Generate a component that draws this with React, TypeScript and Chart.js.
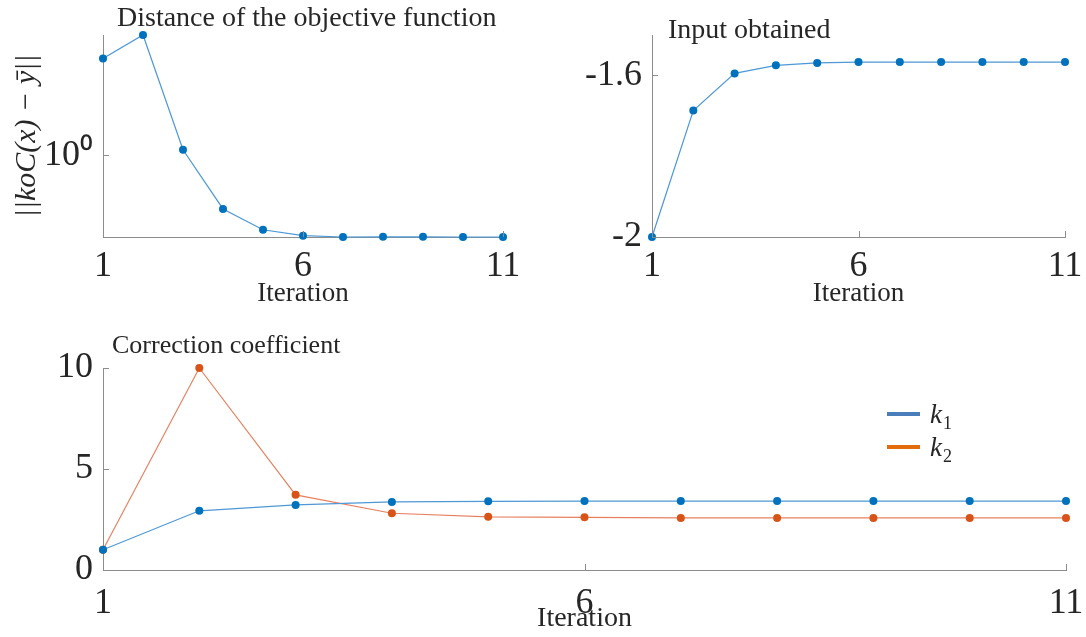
import React, { useEffect, useRef } from 'react';
import { Chart, registerables } from 'chart.js';

Chart.register(...registerables);

// ---------- data ----------
const iterations = [1, 2, 3, 4, 5, 6, 7, 8, 9, 10, 11];
const distanceValues = [3.05, 4.0, 1.068, 0.54, 0.425, 0.397, 0.391, 0.392, 0.392, 0.391, 0.391];
const inputValues = [-2, -1.687, -1.595, -1.575, -1.569, -1.567, -1.567, -1.567, -1.567, -1.567, -1.567];
const k1Values = [1, 2.93, 3.22, 3.37, 3.4, 3.41, 3.41, 3.41, 3.41, 3.41, 3.41];
const k2Values = [1, 10, 3.72, 2.81, 2.63, 2.61, 2.58, 2.58, 2.58, 2.58, 2.58];
const xTickValues = [1, 6, 11];
const distanceTicks = [1];
const inputTicks = [-2, -1.6];
const coefTicks = [0, 5, 10];

// ---------- styles ----------
const SERIF = '"Liberation Serif", "Times New Roman", serif';
const AXIS_COLOR = '#8c8c8c';
const TEXT_COLOR = '#262626';
const BLUE_MARK = '#0072BD';
const BLUE_LINE = '#4d98d6';
const ORANGE_MARK = '#D95319';
const ORANGE_LINE = '#e88060';

const insideTicks = {
  id: 'insideTicks',
  afterDatasetsDraw(chart: any, _args: any, opts: any) {
    const { ctx, chartArea } = chart;
    const len = opts.length || 6;
    ctx.save();
    ctx.strokeStyle = opts.color || AXIS_COLOR;
    ctx.lineWidth = 1;
    const xs = chart.scales.x;
    const ys = chart.scales.y;
    xs.ticks.forEach((t: any) => {
      const px = Math.round(xs.getPixelForValue(t.value)) + 0.5;
      ctx.beginPath();
      ctx.moveTo(px, chartArea.bottom);
      ctx.lineTo(px, chartArea.bottom - len);
      ctx.stroke();
    });
    ys.ticks.forEach((t: any) => {
      const py = Math.round(ys.getPixelForValue(t.value)) + 0.5;
      ctx.beginPath();
      ctx.moveTo(chartArea.left, py);
      ctx.lineTo(chartArea.left + len, py);
      ctx.stroke();
    });
    ctx.restore();
  },
};

const panelText = {
  id: 'panelText',
  afterDraw(chart: any, _args: any, opts: any) {
    const { ctx } = chart;
    (opts.items || []).forEach((it: any) => {
      ctx.save();
      ctx.font = `${it.style || 'normal'} ${it.size}px ${SERIF}`;
      ctx.fillStyle = TEXT_COLOR;
      ctx.textAlign = 'left';
      ctx.textBaseline = 'alphabetic';
      ctx.fillText(it.text, it.x, it.y);
      ctx.restore();
    });
  },
};

const subMap: Record<string, string> = { '₀': '0', '₁': '1', '₂': '2', '₃': '3' };

const seriesLegend = {
  id: 'seriesLegend',
  afterDraw(chart: any, _args: any, opts: any) {
    if (!opts.display) return;
    const { ctx } = chart;
    chart.data.datasets.forEach((ds: any, i: number) => {
      const y = opts.y + i * opts.spacing;
      ctx.save();
      ctx.strokeStyle = opts.colors[i];
      ctx.lineWidth = 4;
      ctx.beginPath();
      ctx.moveTo(opts.x, y);
      ctx.lineTo(opts.x + opts.lineLength, y);
      ctx.stroke();
      const label: string = ds.label;
      const main = label.charAt(0);
      const sub = label.slice(1).split('').map((c) => subMap[c] || c).join('');
      ctx.fillStyle = TEXT_COLOR;
      ctx.textBaseline = 'alphabetic';
      ctx.font = `italic 27px ${SERIF}`;
      const tx = opts.x + opts.lineLength + 10;
      ctx.fillText(main, tx, y + 9);
      const w = ctx.measureText(main).width;
      ctx.font = `normal 18px ${SERIF}`;
      ctx.fillText(sub, tx + w + 1, y + 15);
      ctx.restore();
    });
  },
};

function makeDataset(label: string, values: number[], line: string, mark: string) {
  return {
    label,
    data: iterations.map((x, i) => ({ x, y: values[i] })),
    borderColor: line,
    borderWidth: 1.2,
    pointRadius: 4,
    pointBackgroundColor: mark,
    pointBorderColor: mark,
    pointBorderWidth: 0,
    tension: 0,
    fill: false,
    clip: false,
  };
}

function xScale(height: number, lineHeight: number, titleSize: number, titlePad: number) {
  return {
    type: 'linear',
    min: 1,
    max: 11,
    bounds: 'data',
    afterBuildTicks: (s: any) => {
      s.ticks = xTickValues.map((v) => ({ value: v }));
    },
    afterFit: (s: any) => {
      s.height = height;
    },
    grid: { display: false, drawTicks: false },
    border: { display: true, color: AXIS_COLOR, width: 1 },
    ticks: {
      color: TEXT_COLOR,
      font: { family: SERIF, size: 36, lineHeight },
      padding: 2,
      maxRotation: 0,
      autoSkip: false,
      callback: (v: any) => String(v),
    },
    title: {
      display: true,
      text: 'Iteration',
      color: TEXT_COLOR,
      font: { family: SERIF, size: titleSize },
      padding: { top: 0, bottom: titlePad },
    },
  };
}

function yBase(width: number, tickValues: number[], fmt: (v: number) => string) {
  return {
    bounds: 'data',
    afterBuildTicks: (s: any) => {
      s.ticks = tickValues.map((v) => ({ value: v }));
    },
    afterFit: (s: any) => {
      s.width = width;
    },
    grid: { display: false, drawTicks: false },
    border: { display: true, color: AXIS_COLOR, width: 1 },
    ticks: {
      color: TEXT_COLOR,
      font: { family: SERIF, size: 36 },
      padding: 10,
      autoSkip: false,
      callback: (v: any) => fmt(Number(v)),
    },
  };
}

function baseOptions(padding: any, plugins: any, scales: any) {
  return {
    responsive: false,
    maintainAspectRatio: false,
    animation: false,
    layout: { padding },
    plugins: {
      legend: { display: false },
      title: { display: false },
      tooltip: { enabled: false },
      ...plugins,
    },
    scales,
  };
}

const buildDistance = () => ({
  type: 'line',
  data: { datasets: [makeDataset('distance', distanceValues, BLUE_LINE, BLUE_MARK)] },
  options: baseOptions(
    { left: 0, right: 37, top: 35, bottom: 0 },
    {
      insideTicks: { color: AXIS_COLOR, length: 6 },
      panelText: { items: [{ text: 'Distance of the objective function', x: 117, y: 26, size: 28 }] },
      seriesLegend: { display: false },
    },
    {
      x: xScale(73, 1.53, 27, 0),
      y: {
        type: 'logarithmic',
        min: 0.391,
        max: 4.0,
        ...yBase(103, distanceTicks, () => '10\u2070'),
        title: {
          display: true,
          text: '||koC(x) \u2212 \u0233||',
          color: TEXT_COLOR,
          font: { family: SERIF, size: 30, style: 'italic' },
          padding: { top: 9, bottom: 0 },
        },
      },
    }
  ),
  plugins: [insideTicks, panelText, seriesLegend],
});

const buildInput = () => ({
  type: 'line',
  data: { datasets: [makeDataset('input', inputValues, BLUE_LINE, BLUE_MARK)] },
  options: baseOptions(
    { left: 0, right: 21, top: 35, bottom: 0 },
    {
      insideTicks: { color: AXIS_COLOR, length: 6 },
      panelText: { items: [{ text: 'Input obtained', x: 118, y: 38, size: 28 }] },
      seriesLegend: { display: false },
    },
    {
      x: xScale(73, 1.53, 27, 0),
      y: {
        type: 'linear',
        min: -2,
        max: -1.5,
        ...yBase(102, inputTicks, (v) => (Math.round(v * 10) / 10).toString()),
      },
    }
  ),
  plugins: [insideTicks, panelText, seriesLegend],
});

const buildCoef = () => ({
  type: 'line',
  data: {
    datasets: [
      makeDataset('k\u2081', k1Values, BLUE_LINE, BLUE_MARK),
      makeDataset('k\u2082', k2Values, ORANGE_LINE, ORANGE_MARK),
    ],
  },
  options: baseOptions(
    { left: 0, right: 20, top: 38, bottom: 0 },
    {
      insideTicks: { color: AXIS_COLOR, length: 6 },
      panelText: { items: [{ text: 'Correction coefficient', x: 112, y: 23, size: 26 }] },
      seriesLegend: {
        display: true,
        x: 887,
        y: 84,
        spacing: 33,
        lineLength: 33,
        colors: ['#4A7EBB', '#E36C0A'],
      },
    },
    {
      x: xScale(67, 1.76, 28, 2),
      y: {
        type: 'linear',
        min: 0,
        max: 10,
        ...yBase(103, coefTicks, (v) => String(v)),
      },
    }
  ),
  plugins: [insideTicks, panelText, seriesLegend],
});

type PanelProps = { left: number; top: number; width: number; height: number; build: () => any };

function Panel({ left, top, width, height, build }: PanelProps) {
  const ref = useRef<HTMLCanvasElement>(null);
  useEffect(() => {
    const chart = new Chart(ref.current as HTMLCanvasElement, build());
    return () => chart.destroy();
  }, []);
  return (
    <div style={{ position: 'absolute', left, top, width, height }}>
      <canvas ref={ref} width={width} height={height} style={{ display: 'block', width, height }} />
    </div>
  );
}

export default function App() {
  return (
    <div style={{ position: 'absolute', left: 0, top: 0, width: 1086, height: 637, background: '#ffffff', overflow: 'hidden' }}>
      <Panel left={0} top={0} width={540} height={310} build={buildDistance} />
      <Panel left={550} top={0} width={536} height={310} build={buildInput} />
      <Panel left={0} top={330} width={1086} height={307} build={buildCoef} />
    </div>
  );
}
